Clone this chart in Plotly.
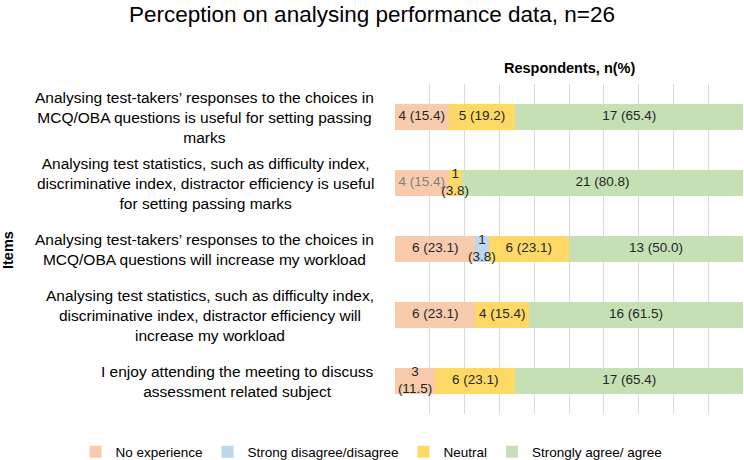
import plotly.graph_objects as go

title = "Perception on analysing performance data, n=26"
items = [
    "Analysing test-takers’ responses to the choices in<br>MCQ/OBA questions is useful for setting passing<br>marks",
    "Analysing test statistics, such as difficulty index,<br>discriminative index, distractor efficiency is useful<br>for setting passing marks",
    "Analysing test-takers’ responses to the choices in<br>MCQ/OBA questions will increase my workload",
    "Analysing test statistics, such as difficulty index,<br>discriminative index, distractor efficiency will<br>increase my workload",
    "I enjoy attending the meeting to discuss<br>assessment related subject",
]
series_names = ["No experience", "Strong disagree/disagree", "Neutral", "Strongly agree/ agree"]
no_exp_n = [4, 4, 6, 6, 3]
no_exp_pct = [15.4, 15.4, 23.1, 23.1, 11.5]
disagree_n = [0, 0, 1, 0, 0]
disagree_pct = [0, 0, 3.8, 0, 0]
neutral_n = [5, 1, 6, 4, 6]
neutral_pct = [19.2, 3.8, 23.1, 15.4, 23.1]
agree_n = [17, 21, 13, 16, 17]
agree_pct = [65.4, 80.8, 50.0, 61.5, 65.4]
x_ticks = [0, 10, 20, 30, 40, 50, 60, 70, 80, 90, 100]

colors = ["#F8CBAD", "#BDD7EE", "#FFD966", "#C5E0B4"]
FONT = "Liberation Sans, Arial, sans-serif"
W = 743.0  # paper width in px (margin l=0, r=1)

all_n = [no_exp_n, disagree_n, neutral_n, agree_n]
all_p = [no_exp_pct, disagree_pct, neutral_pct, agree_pct]

ypos = list(range(len(items)))
fig = go.Figure()
for name, ps, c in zip(series_names, all_p, colors):
    fig.add_trace(go.Bar(
        y=ypos, x=ps, orientation="h", name=name, marker=dict(color=c, line=dict(width=0)),
        width=0.39, hoverinfo="skip",
    ))

# data labels drawn on top of all bars
tx, ty, tt, tc = [], [], [], []
for row in ypos:
    cum = 0.0
    for s in range(len(all_n)):
        n, p = all_n[s][row], all_p[s][row]
        if n > 0:
            tx.append(cum + p / 2)
            ty.append(row)
            tt.append(f"{n}<br>({p:.1f})" if p < 12 else f"{n} ({p:.1f})")
            tc.append("#7F7F7F" if (row == 1 and s == 0) else "#262626")
        cum += p
fig.add_trace(go.Scatter(x=tx, y=ty, mode="text", text=tt, textposition="middle center",
                         textfont=dict(family=FONT, size=13.5, color=tc),
                         showlegend=False, hoverinfo="skip", cliponaxis=False))

for i, lab in enumerate(items):
    fig.add_annotation(x=376 / W, xref="paper", y=i, yref="y", text=lab, showarrow=False,
                       xanchor="right", yanchor="middle", align="center",
                       font=dict(family=FONT, size=15.5, color="#000000"))

fig.add_annotation(x=569 / W, xref="paper", y=1 + 16/330, yref="paper", text="<b>Respondents, n(%)</b>",
                   showarrow=False, xanchor="center", yanchor="middle",
                   font=dict(family=FONT, size=14.5, color="#000000"))
fig.add_annotation(x=8 / W, xref="paper", y=0.497, yref="paper", text="<b>Items</b>",
                   showarrow=False, textangle=-90, xanchor="center", yanchor="middle",
                   font=dict(family=FONT, size=14.5, color="#000000"))

fig.update_layout(
    width=744, height=460, barmode="stack",
    margin=dict(l=0, r=1, t=84, b=46, autoexpand=False),
    plot_bgcolor="white", paper_bgcolor="white",
    title=dict(text=title, x=0.5, xanchor="center", y=1 - 14/460, yanchor="middle",
               font=dict(family=FONT, size=22.5, color="#000000")),
    xaxis=dict(domain=[395 / W, 1], range=[0, 100], tickvals=x_ticks, showticklabels=False,
               showgrid=True, gridcolor="#D9D9D9", gridwidth=1, zeroline=False, showline=False,
               fixedrange=True),
    yaxis=dict(range=[4.5, -0.5], showticklabels=False, showgrid=False, zeroline=False),
    legend=dict(orientation="h", xref="paper", x=0.5, xanchor="center",
                yref="container", y=(460 - 452) / 460, yanchor="middle",
                font=dict(family=FONT, size=13.5, color="#000000"), traceorder="normal",
                itemwidth=30),
)

fig.write_html("out.html")
